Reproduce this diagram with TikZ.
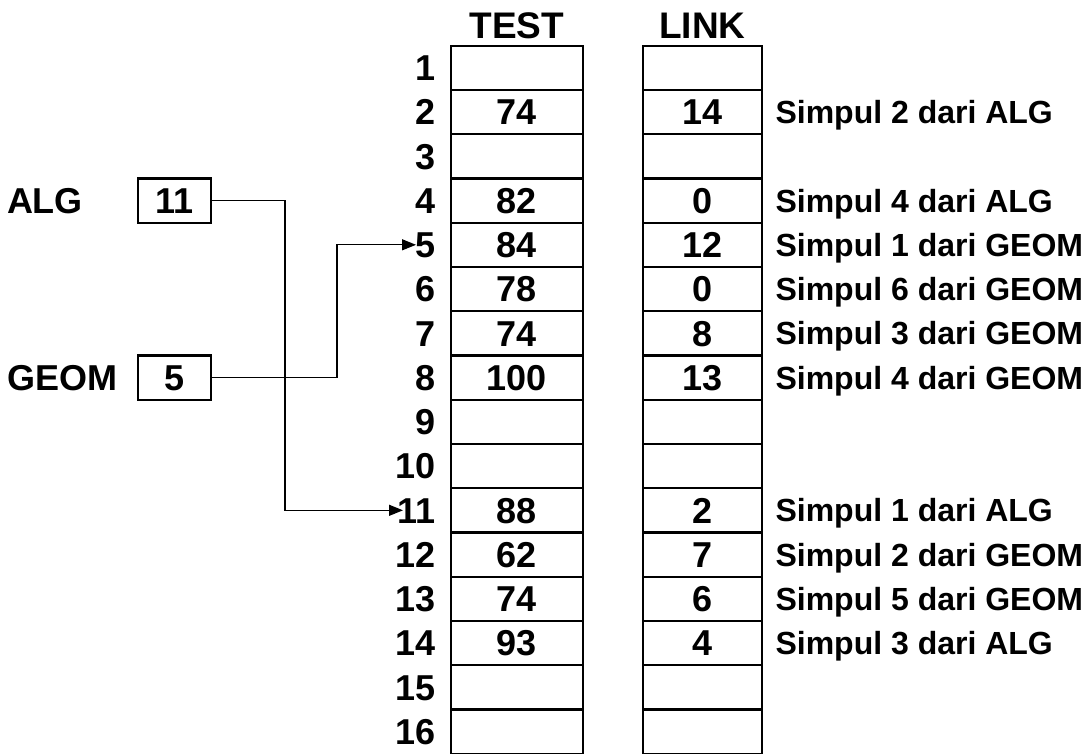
\documentclass[tikz,border=0pt]{standalone}
\usepackage{fontspec}
\setmainfont{Liberation Sans}
\usetikzlibrary{arrows.meta}

\begin{document}
\begin{tikzpicture}[x=1pt,y=-1pt,
  every node/.style={inner sep=0pt, outer sep=0pt},
  num/.style={font=\fontsize{36}{40}\selectfont\bfseries, text height=25.8pt, text depth=0pt},
  head/.style={font=\fontsize{37}{42}\selectfont\bfseries, text height=26.5pt, text depth=0pt},
  note/.style={font=\fontsize{32}{36}\selectfont\bfseries, text height=23pt, text depth=0pt, anchor=west},
  testcell/.style={num, draw, line width=2.3pt, minimum width=132pt, minimum height=44.25pt},
  linkcell/.style={num, draw, line width=2.3pt, minimum width=119.6pt, minimum height=44.25pt},
  conn/.style={line width=1.3pt, -{Triangle[length=14pt,width=11pt]}},
]
\useasboundingbox (0,0) rectangle (1091,753);
\clip (0,0) rectangle (1091,753);

% column headers
\node[head] (htest) at (516.7,25) {TEST};
\node[head] (hlink) at (702.5,25) {LINK};

% the two arrays, one row per index
\foreach \r/\t/\l in {1/{}/{},2/74/14,3/{}/{},4/82/0,5/84/12,6/78/0,7/74/8,8/100/13,
                      9/{}/{},10/{}/{},11/88/2,12/62/7,13/74/6,14/93/4,15/{}/{},16/{}/{}}{
  \pgfmathsetmacro\yc{45.7+(\r-0.5)*44.25}
  \node[testcell] (t\r) at (516.7,\yc) {\t};
  \node[linkcell] (l\r) at (702.5,\yc) {\l};
  \node[num, anchor=east] (r\r) at (436,\yc) {\r};
}

% node descriptions
\foreach \r/\s in {2/Simpul 2 dari ALG,4/Simpul 4 dari ALG,5/Simpul 1 dari GEOM,
                   6/Simpul 6 dari GEOM,7/Simpul 3 dari GEOM,8/Simpul 4 dari GEOM,
                   11/Simpul 1 dari ALG,12/Simpul 2 dari GEOM,13/Simpul 5 dari GEOM,
                   14/Simpul 3 dari ALG}{
  \pgfmathsetmacro\yc{45.7+(\r-0.5)*44.25}
  \node[note] (n\r) at (775.5,\yc) {\s};
}

% list heads
\node[num, anchor=west] (alg) at (7,200.6) {ALG};
\node[num, draw, line width=2.5pt, minimum width=73pt, minimum height=44.5pt] (algbox) at (174.5,200.6) {11};
\node[num, anchor=west] (geom) at (7,377.6) {GEOM};
\node[num, draw, line width=2.5pt, minimum width=73pt, minimum height=44.5pt] (geombox) at (174.5,377.6) {5};

% pointers into the arrays
\coordinate (algbend) at (285,510.3);
\coordinate (tip11) at (403,510.3);
\draw[conn] (algbox.east) -| (algbend) -- (tip11);
\coordinate (geombend) at (337,244.8);
\coordinate (tip5) at (416,244.8);
\draw[conn] (geombox.east) -| (geombend) -- (tip5);
\end{tikzpicture}
\end{document}
